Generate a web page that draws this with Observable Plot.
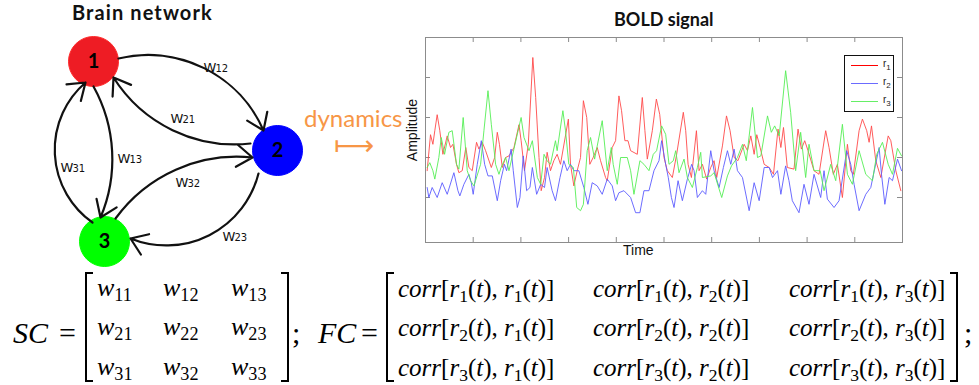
<!DOCTYPE html>
<html><head><meta charset="utf-8">
<script src="https://cdn.jsdelivr.net/npm/d3@7"></script>
<script src="https://cdn.jsdelivr.net/npm/@observablehq/plot@0.6"></script>
<style>
body{margin:0;background:#fff;}
#root{position:relative;width:979px;height:385px;overflow:hidden;background:#fff;}
.abs{position:absolute;white-space:nowrap;}
.title{font-family:Lato,"Open Sans",sans-serif;font-weight:bold;font-size:20px;line-height:20px;color:#111;}
.math{font-family:"Liberation Serif","DejaVu Serif",serif;color:#000;}
.lab{font-size:30px;line-height:34px;}
.ent{font-size:26px;line-height:30px;}
.fce{font-size:25px;line-height:30px;}
.math i{font-style:italic;}
.sub{font-size:70%;position:relative;top:0.26em;}
.lbr,.rbr{position:absolute;border:2px solid #000;width:6px;}
.lbr{border-right:none;}
.rbr{border-left:none;}
.leg{position:absolute;border:1px solid #111;background:#fff;}
.legline{position:absolute;height:1px;}
.legtxt{position:absolute;font-family:"Liberation Sans",Arial,sans-serif;font-size:10px;line-height:10px;color:#222;}
.legtxt .s{font-size:8px;position:relative;top:3px;}
</style></head><body><div id="root"></div>
<script>
// ---------- data ----------
// BOLD signal series: [time index, amplitude]
const r1 = [[0.7,-0.33],[2.1,0.57],[3.1,0.33],[3.9,0.67],[4.9,1.07],[6.0,0.67],[7.3,0.08],[9.1,0.54],[10.5,0.25],[11.5,0.33],[13.0,-0.17],[14.0,-0.38],[15.4,-0.33],[16.9,0.25],[18.2,-0.25],[19.6,-0.33],[21.4,0.38],[22.4,0.21],[23.8,0.38],[25.2,0.17],[27.6,-0.25],[29.0,0],[30.1,0.63],[31.0,0.33],[32.2,-0.25],[33.6,0],[35.0,0.04],[37.1,0.25],[39.2,0.82],[40.1,0.42],[41.5,-0.33],[43.1,0.33],[45.0,2.5],[46.2,1.5],[47.6,0],[48.5,-0.83],[49.9,-0.5],[51.0,0.13],[52.4,-0.33],[53.8,-0.08],[55.2,0.08],[56.6,-0.17],[59.9,0.96],[60.8,-0.17],[62.2,-0.71],[63.6,-0.33],[65.0,0],[66.2,1.42],[67.6,1.0],[68.9,-0.17],[70.3,0],[72.0,0.25],[73.4,-0.08],[75.5,-0.5],[76.2,-0.58],[78.3,0.25],[79.7,0.42],[81.1,1.54],[82.2,1.17],[83.6,0.42],[84.9,0.42],[86.0,0.17],[88.8,0.08],[90.9,1.5],[92.0,0.67],[93.0,-0.04],[95.1,0.67],[96.8,1.46],[98.2,1.08],[100.0,0],[101.4,-0.33],[103.5,-0.5],[105.3,0.08],[108.1,1.13],[109.1,0.67],[110.1,-0.17],[111.5,-0.5],[113.6,0.67],[114.7,-0.33],[116.1,-0.17],[117.9,-0.54],[119.6,-0.25],[121.0,-0.08],[122.1,-0.5],[124.5,0.29],[126.2,1.04],[127.7,0.67],[129.4,0],[131.0,-0.08],[133.6,0.33],[135.0,0.17],[136.4,0.54],[137.8,0.08],[138.9,0.57],[140.3,0.25],[142.0,-0.17],[144.1,-0.25],[145.9,-0.42],[147.8,0.71],[149.0,0.25],[150.1,0.75],[151.7,-0.25],[154.5,-0.29],[156.2,0.71],[157.6,0.21],[159.0,0.42],[160.4,0.17],[162.9,-0.33],[165.0,-0.42],[167.8,0.67],[169.2,0.25],[171.0,-0.42],[172.7,-0.17],[174.8,-1.0],[176.9,0.33],[178.3,-0.33],[179.4,-0.42],[181.8,0.67],[183.2,0.96],[185.0,0.67],[186.0,0.38],[187.0,0.79],[188.8,-0.08],[190.9,-0.5],[194.0,0.54],[195.1,0.42],[197.2,-0.33],[199.3,-0.83]];
const r2 = [[0.7,-0.75],[1.4,-1.0],[2.8,-0.75],[4.9,-1.0],[7.0,-0.63],[9.1,-0.92],[11.9,-0.38],[13.6,-0.83],[14.4,-0.96],[16.1,-0.67],[18.2,-0.42],[19.2,-0.63],[20.0,-0.92],[21.7,-0.17],[23.4,0.42],[24.8,-0.17],[26.2,-0.46],[28.0,-0.46],[30.1,-1.08],[31.5,-0.58],[33.1,-0.17],[34.0,-0.33],[35.9,0.21],[36.8,-0.33],[38.5,-1.25],[39.6,-1.0],[41.0,0.04],[42.4,-0.83],[43.8,-0.75],[44.8,-0.25],[46.6,-0.92],[48.3,-0.67],[49.9,-0.75],[51.0,-0.25],[53.1,-0.83],[54.5,-1.08],[56.4,-0.5],[58.0,-0.08],[59.4,-0.33],[60.8,-0.17],[62.2,-0.33],[64.3,-0.33],[66.4,-0.75],[68.1,-1.17],[69.9,-0.63],[72.0,-0.71],[74.1,-0.92],[76.2,-0.54],[78.3,-0.71],[79.7,-1.08],[81.1,-0.88],[83.2,-0.83],[86.0,-1.0],[88.1,-1.38],[89.9,-1.38],[91.6,-0.83],[93.7,-0.83],[95.8,-0.33],[97.9,-0.08],[99.0,0.42],[100.7,-0.17],[101.8,-0.5],[103.1,-1.0],[104.2,-1.25],[105.9,-0.58],[107.7,-1.08],[109.8,-0.54],[111.6,-0.17],[112.6,-0.33],[114.0,-1.0],[116.1,-0.83],[117.5,-0.92],[119.6,0.17],[121.0,-0.33],[123.1,-0.75],[124.9,-0.25],[126.6,0.17],[128.0,-0.17],[129.4,0.21],[130.8,-0.33],[132.9,-0.5],[135.7,-1.33],[137.8,-0.63],[139.9,-1.08],[142.0,-0.25],[144.1,-0.25],[145.5,-0.5],[147.6,-0.33],[149.0,-0.92],[151.0,-0.21],[152.4,-0.58],[153.8,-1.08],[156.6,-1.38],[158.7,-0.67],[160.8,-1.17],[162.9,-0.42],[165.7,-1.0],[167.1,-0.33],[168.5,-1.04],[171.3,-1.25],[173.4,-1.08],[176.6,0.17],[178.3,-0.17],[179.7,-0.67],[181.8,-1.33],[184.6,-0.92],[186.7,-0.75],[190.2,0.25],[191.2,-0.42],[192.6,-1.17],[194.4,-0.5],[195.8,-0.58],[197.9,-0.04],[199.6,-0.33]];
const r3 = [[0.7,-0.25],[1.8,-0.13],[3.1,-0.33],[3.9,-0.54],[5.6,0],[6.6,0.5],[8.0,0.08],[9.8,0.63],[11.2,0.67],[13.0,-0.17],[14.0,-0.29],[15.8,1.0],[17.5,-0.33],[18.9,-0.58],[20.3,-0.71],[23.1,-0.17],[24.5,0.67],[26.2,1.67],[27.6,0.83],[29.4,-0.17],[30.8,-0.42],[31.7,-0.25],[33.6,0],[35.0,-0.33],[40.1,1.0],[41.3,0.5],[43.4,0.17],[44.8,0.42],[46.9,-0.5],[48.3,-0.67],[49.7,0.08],[51.0,-0.08],[52.4,-0.17],[54.5,0.42],[55.2,0.17],[57.6,1.17],[58.7,0.67],[60.1,-0.17],[62.0,-0.25],[63.4,-1.25],[65.0,-1.33],[66.2,-1.17],[67.8,0.17],[69.2,0.5],[70.9,-0.04],[74.1,0.92],[76.2,-0.33],[77.9,0.25],[78.7,-0.17],[80.4,-0.67],[81.8,0],[84.6,0],[86.0,-0.33],[87.4,-0.92],[89.9,-0.08],[91.6,-0.17],[93.7,-0.33],[95.5,0.08],[96.9,0.17],[99.0,0.79],[100.7,0.58],[102.1,-0.17],[103.9,-0.08],[104.9,0.17],[106.3,-0.38],[108.4,-0.04],[109.8,-0.5],[111.9,-0.75],[114.0,-0.25],[115.4,0.13],[116.1,-0.5],[119.6,-0.46],[121.0,-0.38],[124.2,-1.0],[126.6,-0.46],[128.3,-0.21],[130.8,0],[132.9,0.33],[134.5,-0.08],[137.1,1.25],[139.2,0],[140.6,0.04],[143.4,1.04],[145.0,0.63],[146.4,0.79],[148.3,0.54],[151.0,2.17],[153.1,1.13],[155.2,-0.33],[157.3,0.63],[159.4,-0.5],[160.8,0.33],[162.9,-0.33],[165.5,-0.33],[167.1,-0.83],[169.9,-0.17],[172.0,-0.58],[174.8,0.83],[176.9,-0.42],[179.0,-0.67],[181.8,0.17],[184.6,-0.42],[187.4,-0.58],[189.2,0.08],[191.6,0.38],[194.0,-0.17],[195.8,-0.42],[197.9,0.23],[199.6,0.04]];
const seriesNames = ["r1","r2","r3"];
const seriesColors = ["#ff4a4a","#5c5cff","#55ee55"];
const xTicks = [20,40,60,80,100,120,140,160,180];
const yTicks = [-1,0,1,2];

// network
const nodeIds = ["1","2","3"];
const nodeColors = ["#ee1c24","#0000ff","#00ff00"];
const edgeLabels = ["12","21","13","31","32","23"];

// matrices
const scIdx = [["11","12","13"],["21","22","23"],["31","32","33"]];
const fcIdx = [[[1,1],[1,2],[1,3]],[[2,1],[2,2],[2,3]],[[3,1],[3,2],[3,3]]];

// ---------- layout ----------
const root = document.getElementById("root");
function add(html, cls, style){const d=document.createElement("div");d.className="abs "+(cls||"");d.innerHTML=html;Object.assign(d.style,style);root.appendChild(d);return d;}

// Network diagram
const nodeLayout = [[93,61],[277,150],[104,241]];
const edgeLayout = [
  {x1:118,y1:58,x2:263,y2:130,bend:40,lx:203,ly:67},
  {x1:250,y1:143,x2:113,y2:77,bend:32,lx:170,ly:118},
  {x1:93,y1:86,x2:100,y2:217,bend:26,lx:117,ly:158},
  {x1:92,y1:222,x2:85,y2:82,bend:52,lx:60,ly:167},
  {x1:115,y1:218,x2:252,y2:157,bend:30,lx:175,ly:182},
  {x1:258,y1:173,x2:130,y2:238,bend:49,lx:222,ly:236}
];
const nodes = nodeIds.map((id,i)=>({id,color:nodeColors[i],x:nodeLayout[i][0],y:nodeLayout[i][1]}));
const edges = edgeLabels.map((lab,i)=>({label:lab,...edgeLayout[i]}));

const net = Plot.plot({
  width:330,height:270,margin:0,
  x:{domain:[0,330],range:[0,330],axis:null},
  y:{domain:[0,270],range:[0,270],axis:null},
  marks:[
    Plot.dot(nodes,{x:"x",y:"y",r:25,fill:"color",stroke:d=>d.id==="1"?"#ff2a2a":d.color,strokeWidth:1}),
    ...edges.map(e=>Plot.arrow([e],{x1:"x1",y1:"y1",x2:"x2",y2:"y2",bend:e.bend,stroke:"#111",strokeWidth:2.2,headLength:13,headAngle:70})),
    Plot.text(nodes,{x:"x",y:"y",text:"id",fontSize:20,fontWeight:"bold",fill:"#000",fontFamily:"Lato, 'Open Sans', sans-serif"}),
    Plot.text(edges,{x:"lx",y:"ly",text:()=>"W",textAnchor:"start",fontSize:13,fill:"#111",fontFamily:"'DejaVu Sans', sans-serif"}),
    Plot.text(edges,{x:"lx",y:"ly",text:"label",textAnchor:"start",dx:12,dy:1,fontSize:10,fill:"#111",fontFamily:"'DejaVu Sans', sans-serif"})
  ]
});
net.style.position="absolute";net.style.left="0px";net.style.top="0px";
root.appendChild(net);

add("Brain network","title",{left:"72px",top:"2px",letterSpacing:"1.1px"});

// BOLD signal plot
const data = [r1,r2,r3].flatMap((s,k)=>s.map(([t,v])=>({t,v,series:seriesNames[k]})));
const gray="#8c8c8c";
const bold = Plot.plot({
  width:510,height:262,marginLeft:25,marginTop:37,marginRight:8,marginBottom:20,
  x:{domain:[0,200],axis:null},
  y:{domain:[-2.125,3],axis:null},
  color:{domain:seriesNames,range:seriesColors},
  marks:[
    Plot.ruleX(xTicks,{y1:-2.125,y2:-2.0,stroke:gray}),
    Plot.ruleX(xTicks,{y1:3,y2:2.875,stroke:gray}),
    Plot.ruleY(yTicks,{x1:0,x2:2.1,stroke:gray}),
    Plot.ruleY(yTicks,{x1:197.9,x2:200,stroke:gray}),
    Plot.line(data,{x:"t",y:"v",z:"series",stroke:"series",strokeWidth:1,strokeOpacity:0.9}),
    Plot.frame({stroke:gray})
  ]
});
bold.style.position="absolute";bold.style.left="400px";bold.style.top="0px";
root.appendChild(bold);

add("BOLD signal","title",{left:"614px",top:"9px",fontSize:"18px",letterSpacing:"0"});
add("Amplitude","",{left:"412px",top:"130px",fontFamily:"'Liberation Sans',Arial,sans-serif",fontSize:"14px",lineHeight:"14px",color:"#111",transform:"translate(-50%,-50%) rotate(-90deg)"});
add("Time","",{left:"623px",top:"242px",fontFamily:"'Liberation Sans',Arial,sans-serif",fontSize:"14px",lineHeight:"16px",color:"#111"});

// legend
const leg=document.createElement("div");leg.className="leg";
Object.assign(leg.style,{left:"844px",top:"55px",width:"48px",height:"55px"});
root.appendChild(leg);
const legColors=["#ff0000","#6b6bff","#66ee66"];
seriesNames.forEach((n,i)=>{
  const y=9+i*18;
  const l=document.createElement("div");l.className="legline";
  Object.assign(l.style,{left:"6px",width:"27px",top:y+"px",background:legColors[i]});
  leg.appendChild(l);
  const t=document.createElement("div");t.className="legtxt";
  t.innerHTML="r<span class='s'>"+n.slice(1)+"</span>";
  Object.assign(t.style,{left:"38px",top:(y-6)+"px"});
  leg.appendChild(t);
});

// dynamics arrow
add("dynamics","",{left:"304px",top:"105px",fontFamily:"Lato,'Open Sans',sans-serif",fontSize:"24px",lineHeight:"26px",color:"#f79646"});
add("⟼","",{left:"334px",top:"133px",fontFamily:"'DejaVu Sans',sans-serif",fontSize:"28px",lineHeight:"26px",color:"#f79646"});

// matrices
const labTop = 316;
add("<i>SC</i>","math lab",{left:"13px",top:labTop+"px"});
add("=","math lab",{left:"59px",top:labTop+"px"});
const scX=[97,163,231];
const scTops=[273,312,352];
scIdx.forEach((row,r)=>row.forEach((ij,c)=>add("<i>w</i><span class='sub'>"+ij+"</span>","math ent",{left:scX[c]+"px",top:scTops[r]+"px"})));
const br=(cls,x)=>{const d=document.createElement("div");d.className=cls;Object.assign(d.style,{left:x+"px",top:"272px",height:"106px"});root.appendChild(d);};
br("lbr",85);br("rbr",281);
add(";","math lab",{left:"292px",top:labTop+"px"});
add("<i>FC</i>","math lab",{left:"318px",top:labTop+"px"});
add("=","math lab",{left:"361px",top:labTop+"px"});
const fcX=[398,593,789];
const fcTops=[274,313,353];
const rr=k=>"<i>r</i><span class='sub'>"+k+"</span>(<i>t</i>)";
fcIdx.forEach((row,r)=>row.forEach(([a,b],c)=>add("<i>corr</i>["+rr(a)+", "+rr(b)+"]","math fce",{left:fcX[c]+"px",top:fcTops[r]+"px"})));
br("lbr",386);br("rbr",950);
add(";","math lab",{left:"964px",top:labTop+"px"});
</script>
</body></html>
